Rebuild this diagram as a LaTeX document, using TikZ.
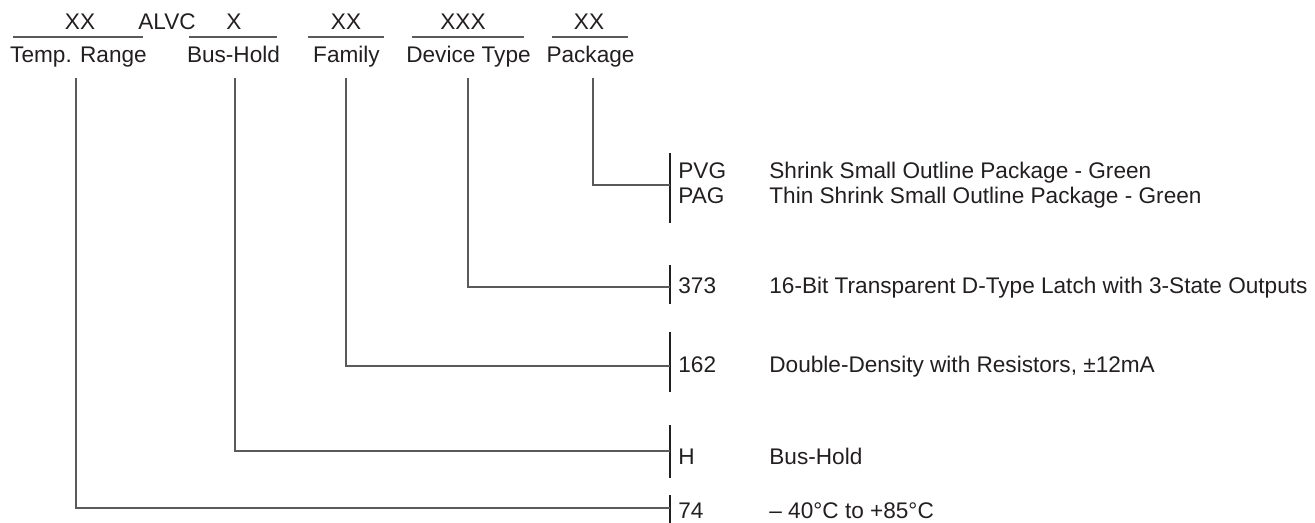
\documentclass[tikz,border=0pt]{standalone}
\usepackage{fontspec}
\setmainfont{Liberation Sans}
\usepackage{xcolor}
\usetikzlibrary{calc}
\definecolor{Ink}     {HTML}{231F20}
\definecolor{LineGrey}{HTML}{5A5A5A}
\tikzset{
  field/.style={anchor=base, text=Ink, inner sep=0pt},
  code/.style={anchor=base west, text=Ink, inner sep=0pt},
  rule/.style={line width=0.6pt, LineGrey},
  wire/.style={line width=0.6pt, LineGrey},
  tickmark/.style={line width=0.6pt, Ink},
}
\begin{document}
\begin{tikzpicture}[x=0.5pt, y=-0.5pt, font=\fontsize{11.3}{13.5}\selectfont]
  \useasboundingbox (0,0) rectangle (1315,523);

  % ===== PART NUMBER FIELDS =====
  \node[field] (fTemp)   at (80,30)  {XX};
  \node[code]  (fAlvc)   at (138,30) {ALVC};
  \node[field] (fBus)    at (234,30) {X};
  \node[field] (fFamily) at (346,30) {XX};
  \node[field] (fDevice) at (463,30) {XXX};
  \node[field] (fPack)   at (589,30) {XX};
  \foreach \a/\b in {13/143,189/277,308/384,412/524,552/628}{
    \draw[rule] (\a,37) -- (\b,37);
  }

  % ===== FIELD NAMES =====
  \node[field] (temp)   at (78.5,63)  {Temp. Range};
  \node[field] (bus)    at (233.5,63) {Bus-Hold};
  \node[field] (family) at (346.5,63) {Family};
  \node[field] (device) at (468.5,63) {Device Type};
  \node[field] (pack)   at (590.5,63) {Package};
  \coordinate (tempTop)   at (76,78);
  \coordinate (busTop)    at (235,78);
  \coordinate (familyTop) at (346,78);
  \coordinate (deviceTop) at (468,78);
  \coordinate (packTop)   at (593,78);

  % ===== OPTION ROWS =====
  % package
  \draw[tickmark] (670,153) -- (670,223);
  \coordinate (kPack) at (670,185);
  \node[code] (cPVG) at (678,179) {PVG};
  \node[code] (cPAG) at (678,204) {PAG};
  \node[code] (dPVG) at (769,179) {Shrink Small Outline Package - Green};
  \node[code] (dPAG) at (769,204) {Thin Shrink Small Outline Package - Green};
  % device type
  \draw[tickmark] (670,265) -- (670,304);
  \coordinate (kDevice) at (670,287);
  \node[code] (c373) at (678,293) {373};
  \node[code] (d373) at (769,293) {16-Bit Transparent D-Type Latch with 3-State Outputs};
  % family
  \draw[tickmark] (670,332) -- (670,392);
  \coordinate (kFamily) at (670,366);
  \node[code] (c162) at (678,372) {162};
  \node[code] (d162) at (769,372) {Double-Density with Resistors, ±12mA};
  % bus-hold
  \draw[tickmark] (670,425) -- (670,478);
  \coordinate (kBus) at (670,451);
  \node[code] (cH) at (678,464) {H};
  \node[code] (dH) at (769,464) {Bus-Hold};
  % temperature range
  \draw[tickmark] (670,495) -- (670,523);
  \coordinate (kTemp) at (670,508);
  \node[code] (c74) at (678,518) {74};
  \node[code] (d74) at (769,518) {– 40°C to +85°C};

  % ===== CONNECTORS =====
  \draw[wire] (packTop)   |- (kPack);
  \draw[wire] (deviceTop) |- (kDevice);
  \draw[wire] (familyTop) |- (kFamily);
  \draw[wire] (busTop)    |- (kBus);
  \draw[wire] (tempTop)   |- (kTemp);

\end{tikzpicture}
\end{document}
